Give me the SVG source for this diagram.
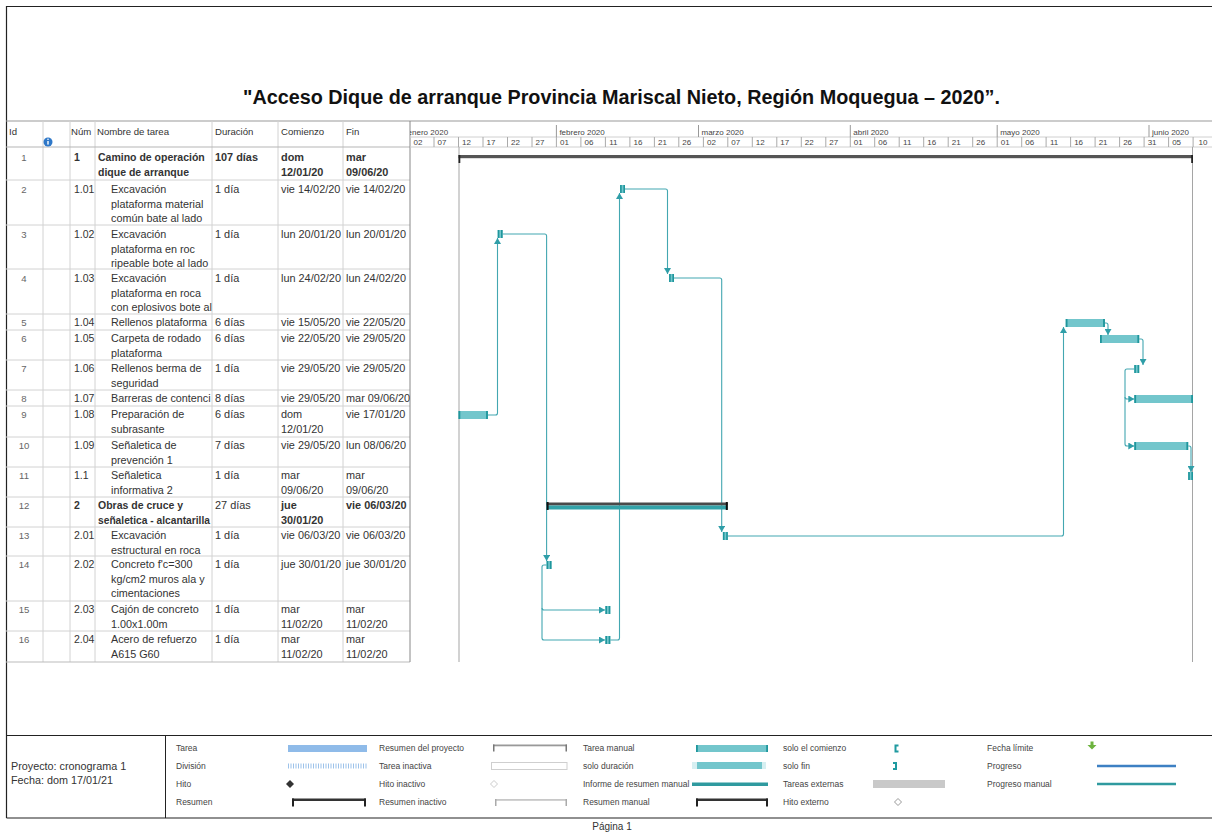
<svg xmlns="http://www.w3.org/2000/svg" width="1212" height="833" viewBox="0 0 1212 833">
<style>
text{font-family:"Liberation Sans",Arial,sans-serif;fill:#333}
.hd{font-size:9.6px}
.id{font-size:9.6px;fill:#666;text-anchor:middle}
.nu{font-size:10.5px}
.nm{font-size:10.8px}
.nb{font-size:10.5px;font-weight:bold}
.dt{font-size:10.9px}
.b{font-weight:bold}
.mo{font-size:8px;fill:#444}
.dy{font-size:8px;fill:#444;text-anchor:middle}
.lg{font-size:8.5px;fill:#444}
.grid{stroke:#d2d2d2;stroke-width:1}
.bar{fill:#73c6cc}
.cap{fill:#1f969c}
.lnk{fill:none;stroke:#43a7b1;stroke-width:1.1}
</style>
<defs>
<marker id="arr" markerUnits="userSpaceOnUse" markerWidth="7" markerHeight="7" refX="6" refY="3.5" orient="auto">
<path d="M0,0 L6,3.5 L0,7 z" fill="#2f9ea8"/>
</marker>
<clipPath id="gclip"><rect x="410" y="121" width="802" height="541"/></clipPath>
<clipPath id="finclip"><rect x="343" y="121" width="67" height="541"/></clipPath>
<clipPath id="nameclip"><rect x="95" y="121" width="117" height="541"/></clipPath>
</defs>
<rect x="0" y="0" width="1212" height="833" fill="#fff"/>
<!-- frame -->
<path d="M6.5,818 V6.5 H1212" fill="none" stroke="#222" stroke-width="1.2"/>
<line x1="6" y1="121" x2="1212" y2="121" stroke="#999"/>
<text x="243" y="104" font-size="20" font-weight="bold" textLength="757" lengthAdjust="spacingAndGlyphs" style="fill:#111">"Acceso Dique de arranque Provincia Mariscal Nieto, Región Moquegua – 2020”.</text>
<!-- table grid -->
<g id="table-grid">
<line class="grid" x1="43" y1="121" x2="43" y2="662"/>
<line class="grid" x1="70" y1="121" x2="70" y2="662"/>
<line class="grid" x1="95" y1="121" x2="95" y2="662"/>
<line class="grid" x1="212" y1="121" x2="212" y2="662"/>
<line class="grid" x1="278" y1="121" x2="278" y2="662"/>
<line class="grid" x1="343" y1="121" x2="343" y2="662"/>
<line x1="6" y1="147" x2="410" y2="147" stroke="#b5b5b5"/>
<line class="grid" x1="6" y1="180" x2="410" y2="180"/>
<line class="grid" x1="6" y1="225" x2="410" y2="225"/>
<line class="grid" x1="6" y1="269" x2="410" y2="269"/>
<line class="grid" x1="6" y1="314" x2="410" y2="314"/>
<line class="grid" x1="6" y1="330" x2="410" y2="330"/>
<line class="grid" x1="6" y1="360" x2="410" y2="360"/>
<line class="grid" x1="6" y1="390" x2="410" y2="390"/>
<line class="grid" x1="6" y1="406" x2="410" y2="406"/>
<line class="grid" x1="6" y1="437" x2="410" y2="437"/>
<line class="grid" x1="6" y1="467" x2="410" y2="467"/>
<line class="grid" x1="6" y1="497" x2="410" y2="497"/>
<line class="grid" x1="6" y1="527" x2="410" y2="527"/>
<line class="grid" x1="6" y1="556" x2="410" y2="556"/>
<line class="grid" x1="6" y1="601" x2="410" y2="601"/>
<line class="grid" x1="6" y1="631" x2="410" y2="631"/>
<line x1="6" y1="662" x2="410" y2="662" stroke="#bbb"/>
<line x1="410" y1="121" x2="410" y2="662" stroke="#888"/>
</g>
<!-- header -->
<g id="table-header">
<text class="hd" x="9" y="135">Id</text>
<circle cx="48" cy="142" r="4.5" fill="#2f78c8"/>
<rect x="47.3" y="141" width="1.4" height="3.6" fill="#fff"/>
<circle cx="48" cy="139.3" r="0.8" fill="#fff"/>
<text class="hd" x="71" y="135">Núm</text>
<text class="hd" x="97" y="135">Nombre de tarea</text>
<text class="hd" x="215" y="135">Duración</text>
<text class="hd" x="281" y="135">Comienzo</text>
<text class="hd" x="346" y="135">Fin</text>
</g>
<!-- timescale -->
<g id="timescale" clip-path="url(#gclip)">
<line x1="410" y1="137" x2="1212" y2="137" stroke="#d0d0d0"/>
<line x1="410" y1="147" x2="1212" y2="147" stroke="#d0d0d0"/>
<g stroke="#999">
<line x1="556.4" y1="125" x2="556.4" y2="137"/>
<line x1="698.5" y1="125" x2="698.5" y2="137"/>
<line x1="850.3" y1="125" x2="850.3" y2="137"/>
<line x1="997.2" y1="125" x2="997.2" y2="137"/>
<line x1="1149" y1="125" x2="1149" y2="137"/>
</g>
<text class="mo" x="407.6" y="135">enero 2020</text>
<text class="mo" x="559.4" y="135">febrero 2020</text>
<text class="mo" x="701.5" y="135">marzo 2020</text>
<text class="mo" x="853.3" y="135">abril 2020</text>
<text class="mo" x="1000.2" y="135">mayo 2020</text>
<text class="mo" x="1152" y="135">junio 2020</text>
<g stroke="#aaa">
<line x1="434" y1="137" x2="434" y2="147"/><line x1="458.5" y1="137" x2="458.5" y2="147"/><line x1="483" y1="137" x2="483" y2="147"/><line x1="507.5" y1="137" x2="507.5" y2="147"/><line x1="532" y1="137" x2="532" y2="147"/><line x1="556.4" y1="137" x2="556.4" y2="147"/><line x1="580.9" y1="137" x2="580.9" y2="147"/><line x1="605.4" y1="137" x2="605.4" y2="147"/><line x1="629.9" y1="137" x2="629.9" y2="147"/><line x1="654.4" y1="137" x2="654.4" y2="147"/><line x1="678.8" y1="137" x2="678.8" y2="147"/><line x1="703.4" y1="137" x2="703.4" y2="147"/><line x1="727.8" y1="137" x2="727.8" y2="147"/><line x1="752.3" y1="137" x2="752.3" y2="147"/><line x1="776.8" y1="137" x2="776.8" y2="147"/><line x1="801.3" y1="137" x2="801.3" y2="147"/><line x1="825.8" y1="137" x2="825.8" y2="147"/><line x1="850.3" y1="137" x2="850.3" y2="147"/><line x1="874.7" y1="137" x2="874.7" y2="147"/><line x1="899.2" y1="137" x2="899.2" y2="147"/><line x1="923.7" y1="137" x2="923.7" y2="147"/><line x1="948.2" y1="137" x2="948.2" y2="147"/><line x1="972.7" y1="137" x2="972.7" y2="147"/><line x1="997.2" y1="137" x2="997.2" y2="147"/><line x1="1021.7" y1="137" x2="1021.7" y2="147"/><line x1="1046.1" y1="137" x2="1046.1" y2="147"/><line x1="1070.6" y1="137" x2="1070.6" y2="147"/><line x1="1095.1" y1="137" x2="1095.1" y2="147"/><line x1="1119.6" y1="137" x2="1119.6" y2="147"/><line x1="1144.1" y1="137" x2="1144.1" y2="147"/><line x1="1168.6" y1="137" x2="1168.6" y2="147"/><line x1="1193.1" y1="137" x2="1193.1" y2="147"/>
</g>
<text class="dy" x="418" y="145">02</text><text class="dy" x="442" y="145">07</text><text class="dy" x="466.5" y="145">12</text><text class="dy" x="491" y="145">17</text><text class="dy" x="515.5" y="145">22</text><text class="dy" x="540" y="145">27</text><text class="dy" x="564.4" y="145">01</text><text class="dy" x="588.9" y="145">06</text><text class="dy" x="613.4" y="145">11</text><text class="dy" x="637.9" y="145">16</text><text class="dy" x="662.4" y="145">21</text><text class="dy" x="686.8" y="145">26</text><text class="dy" x="711.4" y="145">02</text><text class="dy" x="735.8" y="145">07</text><text class="dy" x="760.3" y="145">12</text><text class="dy" x="784.8" y="145">17</text><text class="dy" x="809.3" y="145">22</text><text class="dy" x="833.8" y="145">27</text><text class="dy" x="858.3" y="145">01</text><text class="dy" x="882.7" y="145">06</text><text class="dy" x="907.2" y="145">11</text><text class="dy" x="931.7" y="145">16</text><text class="dy" x="956.2" y="145">21</text><text class="dy" x="980.7" y="145">26</text><text class="dy" x="1005.2" y="145">01</text><text class="dy" x="1029.7" y="145">06</text><text class="dy" x="1054.1" y="145">11</text><text class="dy" x="1078.6" y="145">16</text><text class="dy" x="1103.1" y="145">21</text><text class="dy" x="1127.6" y="145">26</text><text class="dy" x="1152.1" y="145">31</text><text class="dy" x="1176.6" y="145">05</text><text class="dy" x="1203" y="145">10</text>
</g>
<!-- project lines -->
<line x1="459" y1="147" x2="459" y2="662" stroke="#a5a5a5"/>
<line x1="1192.5" y1="147" x2="1192.5" y2="662" stroke="#a5a5a5"/>

<!-- connectors -->
<g id="connectors">
<path class="lnk" d="M487.9,415 H495.5 Q497.5,415 497.5,413 V238" marker-end="url(#arr)"/>
<path class="lnk" d="M502.6,234 H544.6 Q546.6,234 546.6,236 V561" marker-end="url(#arr)"/>
<path class="lnk" d="M546.6,565 H544 Q542,565 542,567 V608 Q542,610 544,610 H605" marker-end="url(#arr)"/>
<path class="lnk" d="M542,608 V638 Q542,640 544,640 H605" marker-end="url(#arr)"/>
<path class="lnk" d="M610.3,640 H617.5 Q619.5,640 619.5,638 V193" marker-end="url(#arr)"/>
<path class="lnk" d="M625,189 H665.5 Q667.5,189 667.5,191 V274" marker-end="url(#arr)"/>
<path class="lnk" d="M674,278 H719.7 Q721.7,278 721.7,280 V532" marker-end="url(#arr)"/>
<path class="lnk" d="M727.8,536 H1061.5 Q1063.5,536 1063.5,534 V327" marker-end="url(#arr)"/>
<path class="lnk" d="M1104.9,323 H1106 Q1108,323 1108,325 V335" marker-end="url(#arr)"/>
<path class="lnk" d="M1139.2,339 H1141 Q1143,339 1143,341 V365" marker-end="url(#arr)"/>
<path class="lnk" d="M1134.3,369 H1127 Q1125,369 1125,371 V397 Q1125,399 1127,399 H1134.3" marker-end="url(#arr)"/>
<path class="lnk" d="M1125,397 V444 Q1125,446 1127,446 H1134.3" marker-end="url(#arr)"/>
<path class="lnk" d="M1188.2,446 H1189 Q1191,446 1191,448 V472" marker-end="url(#arr)"/>
</g>

<!-- tasks -->
<g id="task-1">
<text class="id" x="24" y="161">1</text>
<text class="nu b" x="74" y="161">1</text>
<text class="nb" x="98" y="161">Camino de operación</text>
<text class="nb" x="98" y="175.5">dique de arranque</text>
<text class="dt b" x="215" y="161">107 días</text>
<text class="dt b" x="281" y="161">dom</text><text class="dt b" x="281" y="175.5">12/01/20</text>
<text class="dt b" x="346" y="161">mar</text><text class="dt b" x="346" y="175.5">09/06/20</text>
<rect x="458.5" y="155" width="734.5" height="3.2" fill="#555"/>
<rect x="458.5" y="155" width="1.8" height="8" fill="#222"/>
<rect x="1191.2" y="155" width="1.8" height="8" fill="#222"/>
</g>
<g id="task-2">
<text class="id" x="24" y="193">2</text>
<text class="nu" x="74" y="193">1.01</text>
<text class="nm" x="111" y="193">Excavación</text>
<text class="nm" x="111" y="207.5">plataforma material</text>
<text class="nm" x="111" y="222">común bate al lado</text>
<text class="dt" x="215" y="193">1 día</text>
<text class="dt" x="281" y="193">vie 14/02/20</text>
<text class="dt" x="346" y="193">vie 14/02/20</text>
<rect class="bar" x="620.1" y="185" width="4.9" height="8"/><rect class="cap" x="620.1" y="185" width="1.6" height="8"/><rect class="cap" x="623.4" y="185" width="1.6" height="8"/>
</g>
<g id="task-3">
<text class="id" x="24" y="238">3</text>
<text class="nu" x="74" y="238">1.02</text>
<text class="nm" x="111" y="238">Excavación</text>
<text class="nm" x="111" y="252.5">plataforma en roc</text>
<text class="nm" x="111" y="267">ripeable bote al lado</text>
<text class="dt" x="215" y="238">1 día</text>
<text class="dt" x="281" y="238">lun 20/01/20</text>
<text class="dt" x="346" y="238">lun 20/01/20</text>
<rect class="bar" x="497.7" y="230" width="4.9" height="8"/><rect class="cap" x="497.7" y="230" width="1.6" height="8"/><rect class="cap" x="501" y="230" width="1.6" height="8"/>
</g>
<g id="task-4">
<text class="id" x="24" y="282">4</text>
<text class="nu" x="74" y="282">1.03</text>
<text class="nm" x="111" y="282">Excavación</text>
<text class="nm" x="111" y="296.5">plataforma en roca</text>
<text class="nm" x="111" y="311">con eplosivos bote al</text>
<text class="dt" x="215" y="282">1 día</text>
<text class="dt" x="281" y="282">lun 24/02/20</text>
<text class="dt" x="346" y="282">lun 24/02/20</text>
<rect class="bar" x="669.1" y="274" width="4.9" height="8"/><rect class="cap" x="669.1" y="274" width="1.6" height="8"/><rect class="cap" x="672.4" y="274" width="1.6" height="8"/>
</g>
<g id="task-5">
<text class="id" x="24" y="326">5</text>
<text class="nu" x="74" y="326">1.04</text>
<text class="nm" x="111" y="326">Rellenos plataforma</text>
<text class="dt" x="215" y="326">6 días</text>
<text class="dt" x="281" y="326">vie 15/05/20</text>
<text class="dt" x="346" y="326">vie 22/05/20</text>
<rect class="bar" x="1065.7" y="319" width="39.2" height="8"/><rect class="cap" x="1065.7" y="319" width="1.8" height="8"/><rect class="cap" x="1103.1" y="319" width="1.8" height="8"/>
</g>
<g id="task-6">
<text class="id" x="24" y="342">6</text>
<text class="nu" x="74" y="342">1.05</text>
<text class="nm" x="111" y="342">Carpeta de rodado</text>
<text class="nm" x="111" y="356.5">plataforma</text>
<text class="dt" x="215" y="342">6 días</text>
<text class="dt" x="281" y="342">vie 22/05/20</text>
<text class="dt" x="346" y="342">vie 29/05/20</text>
<rect class="bar" x="1100" y="335" width="39.2" height="8"/><rect class="cap" x="1100" y="335" width="1.8" height="8"/><rect class="cap" x="1137.4" y="335" width="1.8" height="8"/>
</g>
<g id="task-7">
<text class="id" x="24" y="372">7</text>
<text class="nu" x="74" y="372">1.06</text>
<text class="nm" x="111" y="372">Rellenos berma de</text>
<text class="nm" x="111" y="386.5">seguridad</text>
<text class="dt" x="215" y="372">1 día</text>
<text class="dt" x="281" y="372">vie 29/05/20</text>
<text class="dt" x="346" y="372">vie 29/05/20</text>
<rect class="bar" x="1134.3" y="365" width="4.9" height="8"/><rect class="cap" x="1134.3" y="365" width="1.6" height="8"/><rect class="cap" x="1137.6" y="365" width="1.6" height="8"/>
</g>
<g id="task-8">
<text class="id" x="24" y="402">8</text>
<text class="nu" x="74" y="402">1.07</text>
<text class="nm" x="111" y="402" clip-path="url(#nameclip)">Barreras de contenci</text>
<text class="dt" x="215" y="402">8 días</text>
<text class="dt" x="281" y="402">vie 29/05/20</text>
<text class="dt" x="346" y="402" clip-path="url(#finclip)">mar 09/06/20</text>
<rect class="bar" x="1134.3" y="395" width="58.7" height="8"/><rect class="cap" x="1134.3" y="395" width="1.8" height="8"/><rect class="cap" x="1191.2" y="395" width="1.8" height="8"/>
</g>
<g id="task-9">
<text class="id" x="24" y="418">9</text>
<text class="nu" x="74" y="418">1.08</text>
<text class="nm" x="111" y="418">Preparación de</text>
<text class="nm" x="111" y="432.5">subrasante</text>
<text class="dt" x="215" y="418">6 días</text>
<text class="dt" x="281" y="418">dom</text><text class="dt" x="281" y="432.5">12/01/20</text>
<text class="dt" x="346" y="418">vie 17/01/20</text>
<rect class="bar" x="458.5" y="411" width="29.4" height="8"/><rect class="cap" x="458.5" y="411" width="1.8" height="8"/><rect class="cap" x="486.1" y="411" width="1.8" height="8"/>
</g>
<g id="task-10">
<text class="id" x="24" y="449">10</text>
<text class="nu" x="74" y="449">1.09</text>
<text class="nm" x="111" y="449">Señaletica de</text>
<text class="nm" x="111" y="463.5">prevención 1</text>
<text class="dt" x="215" y="449">7 días</text>
<text class="dt" x="281" y="449">vie 29/05/20</text>
<text class="dt" x="346" y="449">lun 08/06/20</text>
<rect class="bar" x="1134.3" y="442" width="53.9" height="8"/><rect class="cap" x="1134.3" y="442" width="1.8" height="8"/><rect class="cap" x="1186.4" y="442" width="1.8" height="8"/>
</g>
<g id="task-11">
<text class="id" x="24" y="479">11</text>
<text class="nu" x="74" y="479">1.1</text>
<text class="nm" x="111" y="479">Señaletica</text>
<text class="nm" x="111" y="493.5">informativa 2</text>
<text class="dt" x="215" y="479">1 día</text>
<text class="dt" x="281" y="479">mar</text><text class="dt" x="281" y="493.5">09/06/20</text>
<text class="dt" x="346" y="479">mar</text><text class="dt" x="346" y="493.5">09/06/20</text>
<rect class="bar" x="1188.2" y="472" width="4.8" height="8"/><rect class="cap" x="1188.2" y="472" width="1.6" height="8"/><rect class="cap" x="1191.4" y="472" width="1.6" height="8"/>
</g>
<g id="task-12">
<text class="id" x="24" y="509">12</text>
<text class="nu b" x="74" y="509">2</text>
<text class="nb" x="98" y="509">Obras de cruce y</text>
<text class="nb" x="98" y="523.5" textLength="112" lengthAdjust="spacingAndGlyphs">señaletica - alcantarilla</text>
<text class="dt" x="215" y="509">27 días</text>
<text class="dt b" x="281" y="509">jue</text><text class="dt b" x="281" y="523.5">30/01/20</text>
<text class="dt b" x="346" y="509">vie 06/03/20</text>
<rect x="546.6" y="502.5" width="181.2" height="3" fill="#4a4a4a"/>
<rect x="546.6" y="505.5" width="181.2" height="4" fill="#33a3a9"/>
<rect x="546.6" y="502" width="2" height="8" fill="#111"/>
<rect x="725.8" y="502" width="2" height="8" fill="#111"/>
</g>
<g id="task-13">
<text class="id" x="24" y="539">13</text>
<text class="nu" x="74" y="539">2.01</text>
<text class="nm" x="111" y="539">Excavación</text>
<text class="nm" x="111" y="553.5">estructural en roca</text>
<text class="dt" x="215" y="539">1 día</text>
<text class="dt" x="281" y="539">vie 06/03/20</text>
<text class="dt" x="346" y="539">vie 06/03/20</text>
<rect class="bar" x="722.9" y="532" width="4.9" height="8"/><rect class="cap" x="722.9" y="532" width="1.6" height="8"/><rect class="cap" x="726.2" y="532" width="1.6" height="8"/>
</g>
<g id="task-14">
<text class="id" x="24" y="568">14</text>
<text class="nu" x="74" y="568">2.02</text>
<text class="nm" x="111" y="568">Concreto f'c=300</text>
<text class="nm" x="111" y="582.5">kg/cm2 muros ala y</text>
<text class="nm" x="111" y="597">cimentaciones</text>
<text class="dt" x="215" y="568">1 día</text>
<text class="dt" x="281" y="568">jue 30/01/20</text>
<text class="dt" x="346" y="568">jue 30/01/20</text>
<rect class="bar" x="546.6" y="561" width="4.9" height="8"/><rect class="cap" x="546.6" y="561" width="1.6" height="8"/><rect class="cap" x="549.9" y="561" width="1.6" height="8"/>
</g>
<g id="task-15">
<text class="id" x="24" y="613">15</text>
<text class="nu" x="74" y="613">2.03</text>
<text class="nm" x="111" y="613">Cajón de concreto</text>
<text class="nm" x="111" y="627.5">1.00x1.00m</text>
<text class="dt" x="215" y="613">1 día</text>
<text class="dt" x="281" y="613">mar</text><text class="dt" x="281" y="627.5">11/02/20</text>
<text class="dt" x="346" y="613">mar</text><text class="dt" x="346" y="627.5">11/02/20</text>
<rect class="bar" x="605.4" y="606" width="4.9" height="8"/><rect class="cap" x="605.4" y="606" width="1.6" height="8"/><rect class="cap" x="608.7" y="606" width="1.6" height="8"/>
</g>
<g id="task-16">
<text class="id" x="24" y="643">16</text>
<text class="nu" x="74" y="643">2.04</text>
<text class="nm" x="111" y="643">Acero de refuerzo</text>
<text class="nm" x="111" y="657.5">A615 G60</text>
<text class="dt" x="215" y="643">1 día</text>
<text class="dt" x="281" y="643">mar</text><text class="dt" x="281" y="657.5">11/02/20</text>
<text class="dt" x="346" y="643">mar</text><text class="dt" x="346" y="657.5">11/02/20</text>
<rect class="bar" x="605.4" y="636" width="4.9" height="8"/><rect class="cap" x="605.4" y="636" width="1.6" height="8"/><rect class="cap" x="608.7" y="636" width="1.6" height="8"/>
</g>

<!-- legend -->
<g id="legend">
<path d="M1212,735.5 H6.5 M1212,818 H6.5" stroke="#222" stroke-width="1.2"/>
<line x1="165.5" y1="735.5" x2="165.5" y2="818" stroke="#222" stroke-width="1"/>
<text x="11" y="770" font-size="10.8">Proyecto: cronograma 1</text>
<text x="11" y="783.5" font-size="10.8">Fecha: dom 17/01/21</text>
<text class="lg" x="176" y="751">Tarea</text>
<text class="lg" x="176" y="769">División</text>
<text class="lg" x="176" y="787">Hito</text>
<text class="lg" x="176" y="805">Resumen</text>
<text class="lg" x="379" y="751">Resumen del proyecto</text>
<text class="lg" x="379" y="769">Tarea inactiva</text>
<text class="lg" x="379" y="787">Hito inactivo</text>
<text class="lg" x="379" y="805">Resumen inactivo</text>
<text class="lg" x="583" y="751">Tarea manual</text>
<text class="lg" x="583" y="769">solo duración</text>
<text class="lg" x="583" y="787">Informe de resumen manual</text>
<text class="lg" x="583" y="805">Resumen manual</text>
<text class="lg" x="783" y="751">solo el comienzo</text>
<text class="lg" x="783" y="769">solo fin</text>
<text class="lg" x="783" y="787">Tareas externas</text>
<text class="lg" x="783" y="805">Hito externo</text>
<text class="lg" x="987" y="751">Fecha límite</text>
<text class="lg" x="987" y="769">Progreso</text>
<text class="lg" x="987" y="787">Progreso manual</text>
<rect x="288" y="745" width="79" height="7" fill="#8fbbe9"/>
<line x1="288" y1="766" x2="367" y2="766" stroke="#9cc2ea" stroke-width="5" stroke-dasharray="1 1.5"/>
<path d="M290,780 L294,784 L290,788 L286,784 z" fill="#333"/>
<rect x="292" y="798.5" width="74" height="2.5" fill="#333"/><rect x="292" y="798.5" width="2" height="8" fill="#222"/><rect x="364" y="798.5" width="2" height="8" fill="#222"/>
<rect x="493" y="744.5" width="74" height="1.8" fill="#999"/><rect x="493" y="744.5" width="1.5" height="7" fill="#777"/><rect x="565.5" y="744.5" width="1.5" height="7" fill="#777"/>
<rect x="491.5" y="762.5" width="75.5" height="7" fill="#fff" stroke="#cfcfcf"/>
<path d="M494,780.5 L497.5,784 L494,787.5 L490.5,784 z" fill="#fff" stroke="#ccc"/>
<rect x="495" y="799" width="72" height="1.8" fill="#c8c8c8"/><rect x="495" y="799" width="1.5" height="7" fill="#aaa"/><rect x="565.5" y="799" width="1.5" height="7" fill="#aaa"/>
<rect class="bar" x="696" y="745" width="72" height="7"/><rect class="cap" x="696" y="745" width="1.8" height="7"/><rect class="cap" x="766.2" y="745" width="1.8" height="7"/>
<rect x="692" y="762" width="74" height="7" fill="#d6eff1"/><rect class="bar" x="697" y="762" width="65" height="7"/>
<rect x="692" y="782.5" width="76" height="3.5" fill="#2f9a9f"/>
<rect x="696" y="798.5" width="72" height="2.5" fill="#333"/><rect x="696" y="798.5" width="2" height="8" fill="#222"/><rect x="766" y="798.5" width="2" height="8" fill="#222"/>
<path d="M898.5,745.5 H895.5 V751.5 H898.5" fill="none" stroke="#1f9aa0" stroke-width="2"/>
<path d="M893,763 H896 V769 H893" fill="none" stroke="#1f9aa0" stroke-width="2"/>
<rect x="873" y="780" width="72" height="8" fill="#c9c9c9"/>
<path d="M898,798.5 L901.5,802 L898,805.5 L894.5,802 z" fill="#fff" stroke="#999"/>
<path d="M1090.5,741.5 h3 v3.5 h3 l-4.5,4.5 l-4.5,-4.5 h3 z" fill="#6db33f"/>
<line x1="1097" y1="766" x2="1176" y2="766" stroke="#3d80c3" stroke-width="2.5"/>
<line x1="1097" y1="784" x2="1176" y2="784" stroke="#2f9a9f" stroke-width="2.5"/>
<text x="612" y="830" font-size="10" text-anchor="middle">Página 1</text>
</g>
</svg>
